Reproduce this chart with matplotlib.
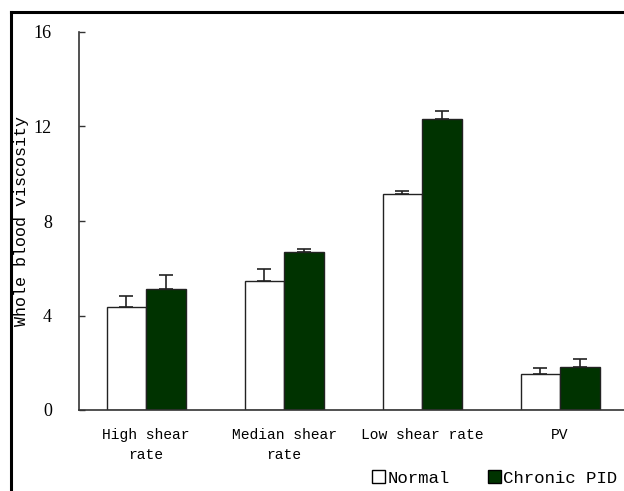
import matplotlib.pyplot as plt
import numpy as np
from matplotlib.lines import Line2D
from matplotlib.patches import Patch

# Data
categories = ['High shear\nrate', 'Median shear\nrate', 'Low shear rate', 'PV']
normal = [4.38, 5.47, 9.14, 1.51]
normal_err = [0.45, 0.50, 0.15, 0.28]
chronic = [5.13, 6.69, 12.32, 1.83]
chronic_err = [0.59, 0.13, 0.32, 0.34]

green = '#003300'
mono = 'Liberation Mono'
serif = 'Liberation Serif'

fig = plt.figure(figsize=(6.24, 4.91), dpi=100)
ax = fig.add_axes([79 / 624, 81 / 491, 545 / 624, 378 / 491])

x = np.arange(len(categories))
w = 0.286
ax.bar(x - w / 2, normal, w, color='white', edgecolor='#222222', linewidth=1.0,
       yerr=[np.zeros(4), normal_err], capsize=5,
       error_kw=dict(ecolor='#222222', elinewidth=1.2, capthick=1.2))
ax.bar(x + w / 2, chronic, w, color=green, edgecolor='#222222', linewidth=1.0,
       yerr=[np.zeros(4), chronic_err], capsize=5,
       error_kw=dict(ecolor='#222222', elinewidth=1.2, capthick=1.2))

ax.set_xlim(-0.486, -0.486 + 545 / 138)
ax.set_ylim(0, 16)
ax.set_yticks([0, 4, 8, 12, 16])
ax.set_yticklabels(['0', '4', '8', '12', '16'], fontfamily=serif, fontsize=13)
ax.tick_params(axis='y', direction='in', length=4, width=1, color='#333333', pad=19.5)
ax.set_xticks(x)
ax.set_xticklabels(categories, fontfamily=mono, fontsize=10.5, linespacing=1.5)
ax.tick_params(axis='x', length=0, pad=13)

for s in ['top', 'right']:
    ax.spines[s].set_visible(False)
for s in ['left', 'bottom']:
    ax.spines[s].set_color('#333333')
    ax.spines[s].set_linewidth(1.2)

ax.set_ylabel('Whole blood viscosity', fontfamily=mono, fontsize=12)
ax.yaxis.set_label_coords(-(79 - 29) / 545, 0.5)

# Legend at the bottom right
handles = [Patch(facecolor='white', edgecolor='black', linewidth=1.0, label='Normal'),
           Patch(facecolor=green, edgecolor='black', linewidth=1.0, label='Chronic PID')]
fig.legend(handles=handles, loc='center left', bbox_to_anchor=(356 / 624, 1 - 478 / 491),
           ncol=2, frameon=False, handlelength=0.75, handleheight=0.75,
           handletextpad=0.15, columnspacing=2.2,
           prop={'family': mono, 'size': 12.5})

# Outer frame (left and top edges visible)
fig.add_artist(Line2D([10.5 / 624, 10.5 / 624], [0, 1 - 12 / 491], color='black', linewidth=2.2))
fig.add_artist(Line2D([10.5 / 624, 1], [1 - 12 / 491, 1 - 12 / 491], color='black', linewidth=2.2))

fig.savefig('out.png', dpi=100)
